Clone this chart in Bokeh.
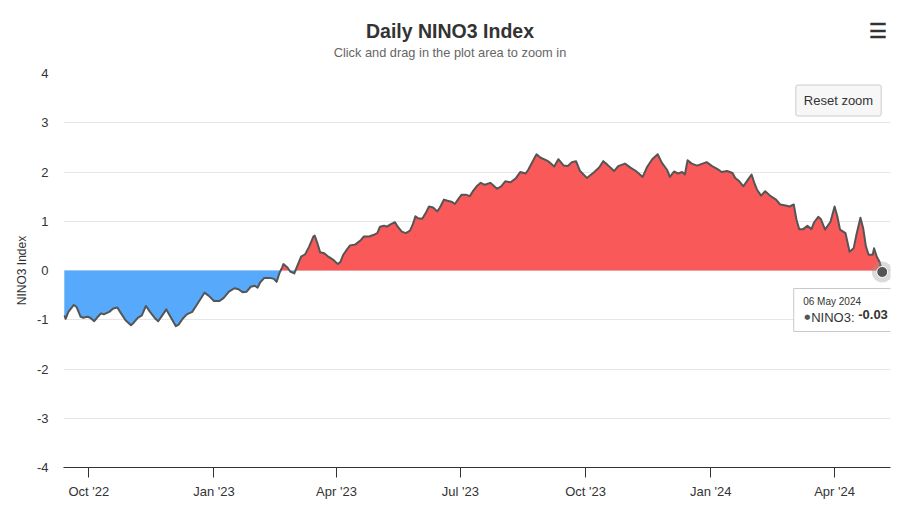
import numpy as np
import pandas as pd
from bokeh.plotting import figure
from bokeh.models import (Range1d, FixedTicker, DatetimeTickFormatter, Label,
                          LinearAxis)
from bokeh.embed import file_html
from bokeh.resources import INLINE

# ---------------- data ----------------
dates = [
    "2022-09-13", "2022-09-14", "2022-09-16", "2022-09-20", "2022-09-22", "2022-09-25",
    "2022-09-27", "2022-09-30", "2022-10-02", "2022-10-05", "2022-10-07", "2022-10-10",
    "2022-10-12", "2022-10-16", "2022-10-19", "2022-10-22", "2022-10-24", "2022-10-28",
    "2022-11-01", "2022-11-03", "2022-11-06", "2022-11-09", "2022-11-12", "2022-11-15",
    "2022-11-19", "2022-11-21", "2022-11-24", "2022-11-27", "2022-11-30", "2022-12-04",
    "2022-12-06", "2022-12-09", "2022-12-12", "2022-12-16", "2022-12-20", "2022-12-25",
    "2022-12-28", "2023-01-01", "2023-01-05", "2023-01-08", "2023-01-12", "2023-01-16",
    "2023-01-19", "2023-01-22", "2023-01-25", "2023-01-28", "2023-01-31", "2023-02-02",
    "2023-02-04", "2023-02-07", "2023-02-11", "2023-02-14", "2023-02-16", "2023-02-18",
    "2023-02-20", "2023-02-21", "2023-02-24", "2023-02-26", "2023-03-01", "2023-03-03",
    "2023-03-06", "2023-03-09", "2023-03-12", "2023-03-15", "2023-03-16", "2023-03-18",
    "2023-03-20", "2023-03-23", "2023-03-26", "2023-03-30", "2023-04-02", "2023-04-04",
    "2023-04-06", "2023-04-09", "2023-04-11", "2023-04-15", "2023-04-19", "2023-04-21",
    "2023-04-25", "2023-04-28", "2023-05-01", "2023-05-03", "2023-05-06", "2023-05-08",
    "2023-05-11", "2023-05-14", "2023-05-16", "2023-05-19", "2023-05-22", "2023-05-25",
    "2023-05-27", "2023-05-29", "2023-05-31", "2023-06-03", "2023-06-06", "2023-06-08",
    "2023-06-11", "2023-06-14", "2023-06-16", "2023-06-19", "2023-06-21", "2023-06-25",
    "2023-06-27", "2023-06-30", "2023-07-02", "2023-07-05", "2023-07-08", "2023-07-10",
    "2023-07-13", "2023-07-16", "2023-07-19", "2023-07-23", "2023-07-28", "2023-07-31",
    "2023-08-03", "2023-08-07", "2023-08-11", "2023-08-14", "2023-08-18", "2023-08-20",
    "2023-08-24", "2023-08-26", "2023-08-29", "2023-09-02", "2023-09-04", "2023-09-08",
    "2023-09-11", "2023-09-15", "2023-09-18", "2023-09-21", "2023-09-24", "2023-09-27",
    "2023-10-02", "2023-10-07", "2023-10-11", "2023-10-14", "2023-10-17", "2023-10-22",
    "2023-10-25", "2023-10-30", "2023-11-03", "2023-11-07", "2023-11-12", "2023-11-15",
    "2023-11-19", "2023-11-23", "2023-11-26", "2023-11-30", "2023-12-02", "2023-12-05",
    "2023-12-08", "2023-12-11", "2023-12-13", "2023-12-15", "2023-12-18", "2023-12-22",
    "2023-12-26", "2023-12-29", "2024-01-02", "2024-01-06", "2024-01-09", "2024-01-13",
    "2024-01-17", "2024-01-19", "2024-01-22", "2024-01-25", "2024-01-28", "2024-01-31",
    "2024-02-02", "2024-02-04", "2024-02-07", "2024-02-10", "2024-02-14", "2024-02-18",
    "2024-02-21", "2024-02-25", "2024-02-28", "2024-03-02", "2024-03-04", "2024-03-06",
    "2024-03-09", "2024-03-12", "2024-03-15", "2024-03-17", "2024-03-20", "2024-03-22",
    "2024-03-25", "2024-03-29", "2024-04-01", "2024-04-03", "2024-04-05", "2024-04-09",
    "2024-04-12", "2024-04-15", "2024-04-17", "2024-04-20", "2024-04-22", "2024-04-24",
    "2024-04-26", "2024-04-29", "2024-04-30", "2024-05-02", "2024-05-04", "2024-05-06",
]
nino3 = [
    -0.91, -0.98, -0.84, -0.70, -0.74, -0.94,
    -0.96, -0.94, -0.96, -1.03, -0.96, -0.87,
    -0.89, -0.84, -0.77, -0.75, -0.84, -1.01,
    -1.11, -1.06, -0.96, -0.91, -0.72, -0.84,
    -0.98, -1.03, -0.91, -0.79, -0.94, -1.13,
    -1.10, -0.98, -0.89, -0.84, -0.67, -0.45,
    -0.51, -0.62, -0.62, -0.56, -0.43, -0.36,
    -0.38, -0.44, -0.43, -0.33, -0.31, -0.35,
    -0.24, -0.15, -0.15, -0.17, -0.23, -0.06,
    0.06, 0.13, 0.06, -0.02, -0.06, 0.08,
    0.28, 0.33, 0.49, 0.69, 0.71, 0.55,
    0.37, 0.35, 0.28, 0.21, 0.13, 0.18,
    0.32, 0.44, 0.51, 0.53, 0.62, 0.69,
    0.69, 0.72, 0.76, 0.89, 0.91, 0.89,
    0.94, 0.98, 0.89, 0.79, 0.76, 0.81,
    0.93, 1.10, 1.06, 1.05, 1.19, 1.30,
    1.28, 1.20, 1.28, 1.44, 1.42, 1.39,
    1.35, 1.47, 1.54, 1.54, 1.51, 1.60,
    1.71, 1.78, 1.74, 1.78, 1.66, 1.71,
    1.81, 1.79, 1.88, 2.00, 1.97, 2.05,
    2.26, 2.36, 2.29, 2.24, 2.21, 2.11,
    2.26, 2.13, 2.12, 2.20, 2.22, 2.02,
    1.88, 1.99, 2.09, 2.22, 2.15, 2.02,
    2.12, 2.17, 2.09, 2.02, 1.90, 2.09,
    2.26, 2.36, 2.19, 2.04, 1.90, 2.01,
    1.97, 2.00, 1.95, 2.24, 2.17, 2.13,
    2.17, 2.20, 2.12, 2.06, 2.00, 2.02,
    1.98, 1.88, 1.81, 1.71, 1.83, 1.95,
    1.78, 1.64, 1.52, 1.61, 1.51, 1.44,
    1.34, 1.32, 1.30, 1.34, 1.03, 0.84,
    0.84, 0.91, 0.84, 0.98, 1.09, 1.04,
    0.83, 0.99, 1.30, 1.10, 0.83, 0.76,
    0.38, 0.45, 0.72, 1.07, 0.86, 0.49,
    0.32, 0.32, 0.45, 0.28, 0.18, -0.03,
]
y_ticks = [-4, -3, -2, -1, 0, 1, 2, 3, 4]
x_tick_dates = ["2022-10-01", "2023-01-01", "2023-04-01", "2023-07-01",
                "2023-10-01", "2024-01-01", "2024-04-01"]
title_text = "Daily NINO3 Index"
subtitle_text = "Click and drag in the plot area to zoom in"
y_label = "NINO3 Index"
series_name = "NINO3"
tooltip_date = "06 May 2024"
button_text = "Reset zoom"
menu_icon = "\u2630"

# ---------------- geometry / style ----------------
FONT = "Liberation Sans"
W, H = 917, 517
BL, BT = 63, 73
FRAME_R, FRAME_B = 890, 467
BR, BB = W - FRAME_R, H - FRAME_B
FW, FH = FRAME_R - BL, FRAME_B - BT
x_start = pd.Timestamp("2022-09-12 10:00")
x_end = pd.Timestamp("2024-05-12 02:00")
y_lo, y_hi = -4, 4


def px2x(px):  # canvas pixel -> datetime
    return x_start + (x_end - x_start) * ((px - BL) / FW)


def py2y(py):  # canvas pixel -> data value
    return y_hi - (y_hi - y_lo) * ((py - BT) / FH)


def px2ms(px):  # canvas pixel -> integer epoch milliseconds
    return int(px2x(px).value // 1_000_000)


def dpx(px):  # pixel distance -> time delta
    return (x_end - x_start) * (px / FW)


def dpy(py):  # pixel distance (downwards) -> value delta
    return -(y_hi - y_lo) * (py / FH)


def text_row(ticks_labels, standoff, size, style, color):
    """A bare row of texts above the frame (an axis with no line and no ticks)."""
    ticks = [t for t, _ in ticks_labels]
    ax = LinearAxis(ticker=FixedTicker(ticks=ticks),
                    major_label_overrides={t: s for t, s in ticks_labels})
    ax.axis_line_color = None
    ax.major_tick_line_color = None
    ax.minor_tick_line_color = None
    ax.major_tick_out = 0
    ax.major_tick_in = 0
    ax.minor_tick_out = 0
    ax.major_label_standoff = standoff
    ax.major_label_text_font = FONT
    ax.major_label_text_font_size = size
    ax.major_label_text_font_style = style
    ax.major_label_text_color = color
    return ax


x = pd.to_datetime(dates)
v = np.array(nino3, dtype=float)

p = figure(width=W, height=H, x_axis_type="datetime",
           x_range=Range1d(x_start, x_end), y_range=Range1d(y_lo, y_hi),
           output_backend="svg", toolbar_location=None, title_location=None,
           min_border_left=BL, min_border_right=BR,
           min_border_top=BT, min_border_bottom=BB)
p.outline_line_color = None
p.background_fill_color = "white"
p.border_fill_color = "white"

# subtitle row (closest to the frame), then title row with the menu icon
t_center, t_menu = px2ms(449.5), px2ms(877)
p.add_layout(text_row([(t_center, subtitle_text)], 14, "12.8px", "normal",
                      "#666666"), "above")
p.add_layout(text_row([(t_center, title_text), (t_menu, menu_icon)], 0, "19.5px",
                      "bold", "#333333"), "above")

# areas (zones above / below zero)
p.varea(x=x, y1=0, y2=np.maximum(v, 0), fill_color="#fa5959", fill_alpha=1)
p.varea(x=x, y1=0, y2=np.minimum(v, 0), fill_color="#57a9fb", fill_alpha=1)
p.line(x=x, y=v, line_color="#555555", line_width=2, line_join="round")

# hovered last point
p.scatter(x=[x[-1]], y=[v[-1]], size=21, fill_color="#999999", fill_alpha=0.35,
          line_color=None)
p.scatter(x=[x[-1]], y=[v[-1]], size=11, fill_color="#555555",
          line_color="#ffffff", line_width=1)

# axes
p.xgrid.grid_line_color = None
p.ygrid.grid_line_color = "#e6e6e6"
p.ygrid.grid_line_width = 1

p.yaxis.ticker = FixedTicker(ticks=y_ticks)
p.yaxis.major_label_overrides = {t: str(t) for t in y_ticks}
p.yaxis.axis_line_color = None
p.yaxis.major_tick_line_color = None
p.yaxis.major_tick_out = 0
p.yaxis.major_tick_in = 0
p.yaxis.minor_tick_line_color = None
p.yaxis.minor_tick_out = 0
p.yaxis.major_label_standoff = 15
p.yaxis.major_label_text_font = FONT
p.yaxis.major_label_text_font_size = "13px"
p.yaxis.major_label_text_color = "#333333"
p.yaxis.axis_label = y_label
p.yaxis.axis_label_text_font = FONT
p.yaxis.axis_label_text_font_size = "12px"
p.yaxis.axis_label_text_font_style = "normal"
p.yaxis.axis_label_text_color = "#333333"
p.yaxis.axis_label_standoff = 5

x_ticks_ms = [pd.Timestamp(d).value / 1e6 for d in x_tick_dates]
xa = p.below[0]
xa.ticker = FixedTicker(ticks=x_ticks_ms)
xa.formatter = DatetimeTickFormatter(months="%b '%y", days="%b '%y", years="%b '%y")
xa.axis_line_color = "#333333"
xa.axis_line_width = 1
xa.major_tick_line_color = "#333333"
xa.major_tick_out = 10
xa.major_tick_in = 0
xa.minor_tick_line_color = None
xa.minor_tick_out = 0
xa.major_label_standoff = 6
xa.major_label_text_font = FONT
xa.major_label_text_font_size = "13px"
xa.major_label_text_color = "#333333"

# reset zoom button
p.add_layout(Label(x=px2x(838), y=py2y(100), text=button_text, text_align="center",
                   text_baseline="middle", text_font=FONT, text_font_size="13px",
                   text_color="#333333", background_fill_color="#f7f7f7",
                   border_line_color="#cccccc", padding=8, border_radius=2))

# tooltip (placed relative to the last point)
lx, ly = x[-1], v[-1]
bx = lx + dpx(-36)
by = ly + dpy(38)
p.rect(x=[bx], y=[by], width=105, height=43, width_units="screen",
       height_units="screen", fill_color="#ffffff", fill_alpha=1,
       line_color="#c8c8c8", line_width=1)
p.add_layout(Label(x=lx, y=ly, x_offset=-79, y_offset=-24, text=tooltip_date,
                   text_align="left", text_baseline="top", text_font=FONT,
                   text_font_size="10px", text_color="#333333"))
p.add_layout(Label(x=lx, y=ly, x_offset=-78, y_offset=-45, text="\u25cf",
                   text_align="left", text_baseline="middle", text_font="DejaVu Sans",
                   text_font_size="7px", text_color="#555555"))
p.add_layout(Label(x=lx, y=ly, x_offset=-71, y_offset=-38,
                   text=series_name + ":", text_align="left", text_baseline="top",
                   text_font=FONT, text_font_size="13px", text_color="#333333"))
p.add_layout(Label(x=lx, y=ly, x_offset=-24, y_offset=-38,
                   text="%.2f" % v[-1], text_align="left", text_baseline="top",
                   text_font=FONT, text_font_size="13px", text_font_style="bold",
                   text_color="#333333"))

open("out.html", "w").write(file_html(p, INLINE))
